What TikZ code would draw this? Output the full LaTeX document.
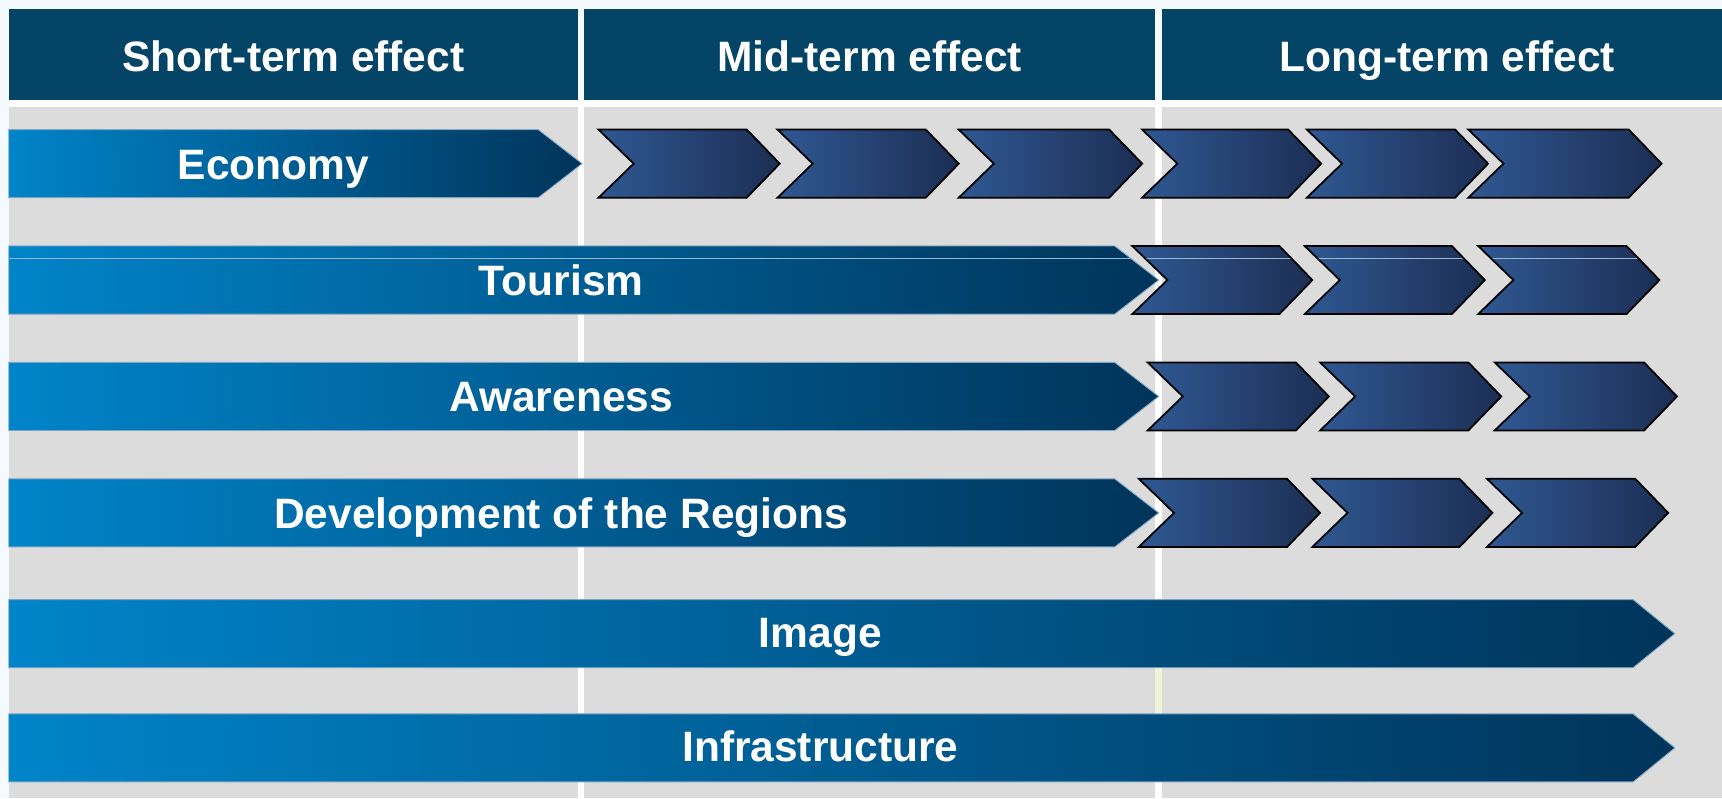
\documentclass[tikz,border=0pt]{standalone}
\usepackage{fontspec}
\setmainfont{Liberation Sans}
\usetikzlibrary{calc}

\definecolor{pagebg}{HTML}{F5FAFE}
\definecolor{headblue}{HTML}{034467}
\definecolor{panelgray}{HTML}{DCDCDC}
\definecolor{barlight}{HTML}{0084C9}
\definecolor{bardark}{HTML}{00345A}
\definecolor{baredge}{HTML}{7EA6C4}
\definecolor{chevlight}{HTML}{2F5892}
\definecolor{chevdark}{HTML}{1C2E54}
\definecolor{seam}{HTML}{F0F5D8}

% effect bar: #1 top, #2 end of body, #3 tip
\newcommand{\effectbar}[4][]{%
  \draw[effectbar,#1] (8,#2) -- (#3,#2) -- (#4,#2+31) -- (#3,#2+62) -- (8,#2+62) -- cycle;}
% chevron: #1 left, #2 tip, #3 top
\newcommand{\chevbox}[4][]{%
  \draw[chevfill,#1] (#2,#4) -- (#3-30,#4) -- (#3,#4+31) -- (#3-30,#4+62) -- (#2,#4+62) -- (#2+32,#4+31) -- cycle;}

\tikzset{
  effectbar/.style={left color=barlight, right color=bardark, draw=baredge, line width=0.8pt},
  chevfill/.style={left color=chevlight, right color=chevdark, draw=black, line width=1.6pt},
  hiline/.style={path picture={\draw[baredge!80!white, line width=0.9pt]
      ([yshift=-11pt]path picture bounding box.north west) -- ([yshift=-11pt]path picture bounding box.north east);}},
  headtext/.style={text=white, anchor=base, inner sep=0pt, font=\fontsize{38.7}{40}\selectfont\bfseries},
  bartext/.style={text=white, anchor=base, inner sep=0pt, font=\fontsize{38.7}{40}\selectfont\bfseries},
}

\begin{document}
\begin{tikzpicture}[x=1pt, y=-1pt]
  \useasboundingbox (0,0) rectangle (1568,727);
  \fill[pagebg] (0,0) rectangle (1568,727);

  % column heads
  \fill[headblue] (8,8) rectangle (526,91);
  \fill[headblue] (532,8) rectangle (1052,91);
  \fill[headblue] (1058,8) rectangle (1568,91);
  \node[headtext] (short) at (267,65) {Short-term effect};
  \node[headtext] (mid) at (792,65) {Mid-term effect};
  \node[headtext] (long) at (1318,65) {Long-term effect};

  % grey panels, white gaps between
  \fill[white] (0,91) rectangle (1568,727);
  \fill[pagebg] (0,91) rectangle (8,727);
  \fill[panelgray] (8,97) rectangle (526,727);
  \fill[panelgray] (532,97) rectangle (1052,727);
  \fill[panelgray] (1058,97) rectangle (1568,727);
  \fill[seam] (1052,607) rectangle (1058,649);

  % bars
  \effectbar{118}{490}{530}
  \effectbar[hiline]{224}{1015}{1055}
  \effectbar{330}{1015}{1055}
  \effectbar{436}{1015}{1055}
  \effectbar{546}{1487}{1525}
  \effectbar{650}{1487}{1525}

  % chevrons
  \foreach \l/\r in {545/710, 708/873, 873/1040, 1040/1203, 1190/1355, 1337/1513}
    \chevbox{\l}{\r}{118};
  \foreach \l/\r in {1031/1195, 1188/1352, 1346/1511}
    \chevbox[hiline]{\l}{\r}{224};
  \foreach \l/\r in {1045/1210, 1202/1367, 1361/1527}
    \chevbox{\l}{\r}{330};
  \foreach \l/\r in {1037/1202, 1195/1359, 1354/1519}
    \chevbox{\l}{\r}{436};

  % bar labels
  \node[bartext] (economy) at (249,163) {Economy};
  \node[bartext] (tourism) at (511,269) {Tourism};
  \node[bartext] (awareness) at (511,375) {Awareness};
  \node[bartext] (regions) at (511,481) {Development of the Regions};
  \node[bartext] (image) at (747,590) {Image};
  \node[bartext] (infra) at (747,693) {Infrastructure};
\end{tikzpicture}
\end{document}
